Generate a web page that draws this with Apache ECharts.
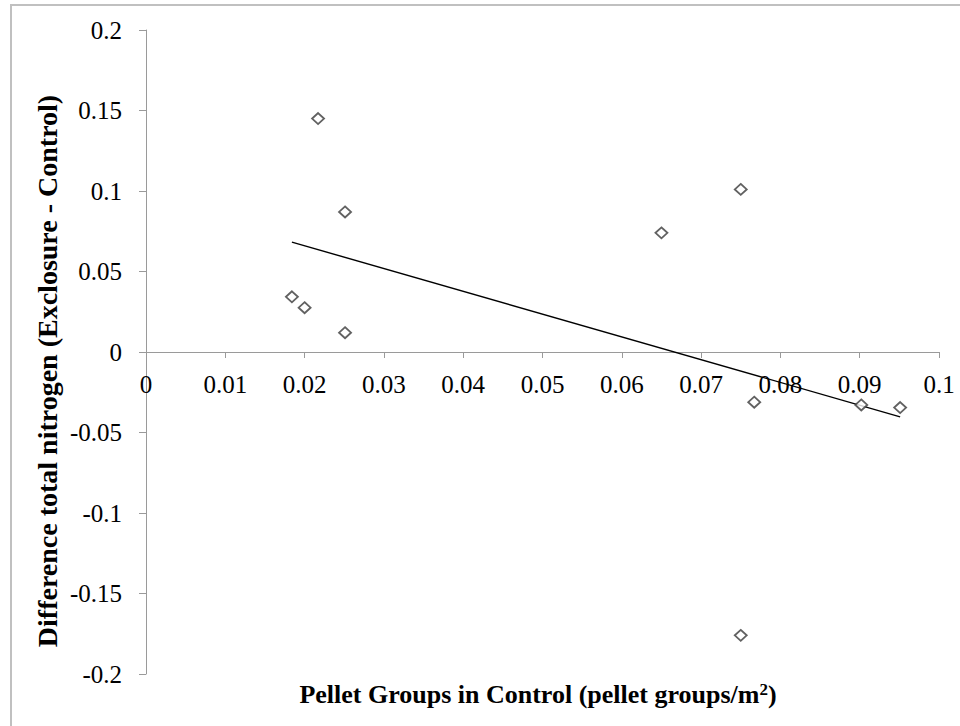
<!DOCTYPE html>
<html>
<head>
<meta charset="utf-8">
<script src="https://cdn.jsdelivr.net/npm/echarts@6/dist/echarts.min.js"></script>
<style>
  html, body { margin: 0; padding: 0; background: #ffffff; }
  #chart { width: 960px; height: 726px; }
</style>
</head>
<body>
<div id="chart"></div>
<script>
// Pellet group density in the control plots (pellet groups/m²)
const pelletGroups = [0.0217, 0.0251, 0.0184, 0.0200, 0.0251, 0.0650, 0.0750, 0.0767, 0.0902, 0.0951, 0.0750];
// Difference in total nitrogen, exclosure minus control
const nitrogenDiff = [0.145, 0.087, 0.0343, 0.0275, 0.012, 0.074, 0.101, -0.0312, -0.0329, -0.0345, -0.176];

const xTitle = 'Pellet Groups in Control (pellet groups/m';
const yTitle = 'Difference total nitrogen (Exclosure - Control)';

// Least-squares linear trendline across the observed x range
function linearFit(xs, ys) {
  const n = xs.length;
  const mx = xs.reduce((a, b) => a + b, 0) / n;
  const my = ys.reduce((a, b) => a + b, 0) / n;
  let sxy = 0, sxx = 0;
  for (let i = 0; i < n; i++) {
    sxy += (xs[i] - mx) * (ys[i] - my);
    sxx += (xs[i] - mx) * (xs[i] - mx);
  }
  const slope = sxy / sxx;
  return { slope, intercept: my - slope * mx };
}
const fit = linearFit(pelletGroups, nitrogenDiff);
const xMin = Math.min(...pelletGroups);
const xMax = Math.max(...pelletGroups);
const trend = [
  [xMin, fit.intercept + fit.slope * xMin],
  [xMax, fit.intercept + fit.slope * xMax]
];

const points = pelletGroups.map((x, i) => [x, nitrogenDiff[i]]);

const FONT = '"Liberation Serif", "Times New Roman", serif';
const axisGray = '#9a9a9a';

// Plot area geometry; the x axis is drawn across y = 0 (middle of the plot)
const GRID = { left: 146, right: 21, top: 30, bottom: 52 };
const plotHeight = 726 - GRID.top - GRID.bottom;

const chart = echarts.init(document.getElementById('chart'), null, { renderer: 'svg' });
chart.setOption({
  animation: false,
  backgroundColor: '#ffffff',
  grid: GRID,
  xAxis: {
    type: 'value',
    min: 0, max: 0.1, interval: 0.01,
    offset: -plotHeight / 2,
    axisLine: { onZero: false, lineStyle: { color: axisGray, width: 1 } },
    axisTick: { show: true, length: 6, lineStyle: { color: axisGray } },
    axisLabel: { color: '#000', fontFamily: FONT, fontSize: 25, margin: 20, showMaxLabel: true },
    splitLine: { show: false }
  },
  yAxis: {
    type: 'value',
    min: -0.2, max: 0.2, interval: 0.05,
    axisLine: { show: true, onZero: false, lineStyle: { color: axisGray, width: 1 } },
    axisTick: { show: true, length: 7, lineStyle: { color: axisGray } },
    axisLabel: { color: '#000', fontFamily: FONT, fontSize: 25, margin: 24 },
    splitLine: { show: false }
  },
  series: [
    {
      type: 'scatter',
      data: points,
      symbol: 'diamond',
      symbolSize: [12, 11],
      itemStyle: { color: '#ffffff', borderColor: '#3a3a3a', borderWidth: 1.8 },
      z: 3
    },
    {
      type: 'line',
      data: trend,
      showSymbol: false,
      symbol: 'none',
      lineStyle: { color: '#000000', width: 1.4 },
      z: 2
    }
  ],
  graphic: [
    {
      type: 'rect',
      shape: { x: 11, y: 5, width: 1100, height: 1000 },
      style: { fill: 'none', stroke: '#c0c0c0', lineWidth: 2 },
      silent: true
    },
    {
      type: 'text',
      x: 538, y: 694,
      style: {
        text: '{t|' + xTitle + '}{s|2}{t|)}',
        align: 'center', verticalAlign: 'middle',
        rich: {
          t: { fontFamily: FONT, fontWeight: 'bold', fontSize: 26, fill: '#000', verticalAlign: 'bottom' },
          s: { fontFamily: FONT, fontWeight: 'bold', fontSize: 17, fill: '#000', verticalAlign: 'top' }
        }
      }
    },
    {
      type: 'text',
      x: 47, y: 371,
      rotation: Math.PI / 2,
      style: {
        text: yTitle,
        align: 'center', verticalAlign: 'middle',
        fontFamily: FONT, fontWeight: 'bold', fontSize: 28, fill: '#000'
      }
    }
  ]
});
</script>
</body>
</html>
